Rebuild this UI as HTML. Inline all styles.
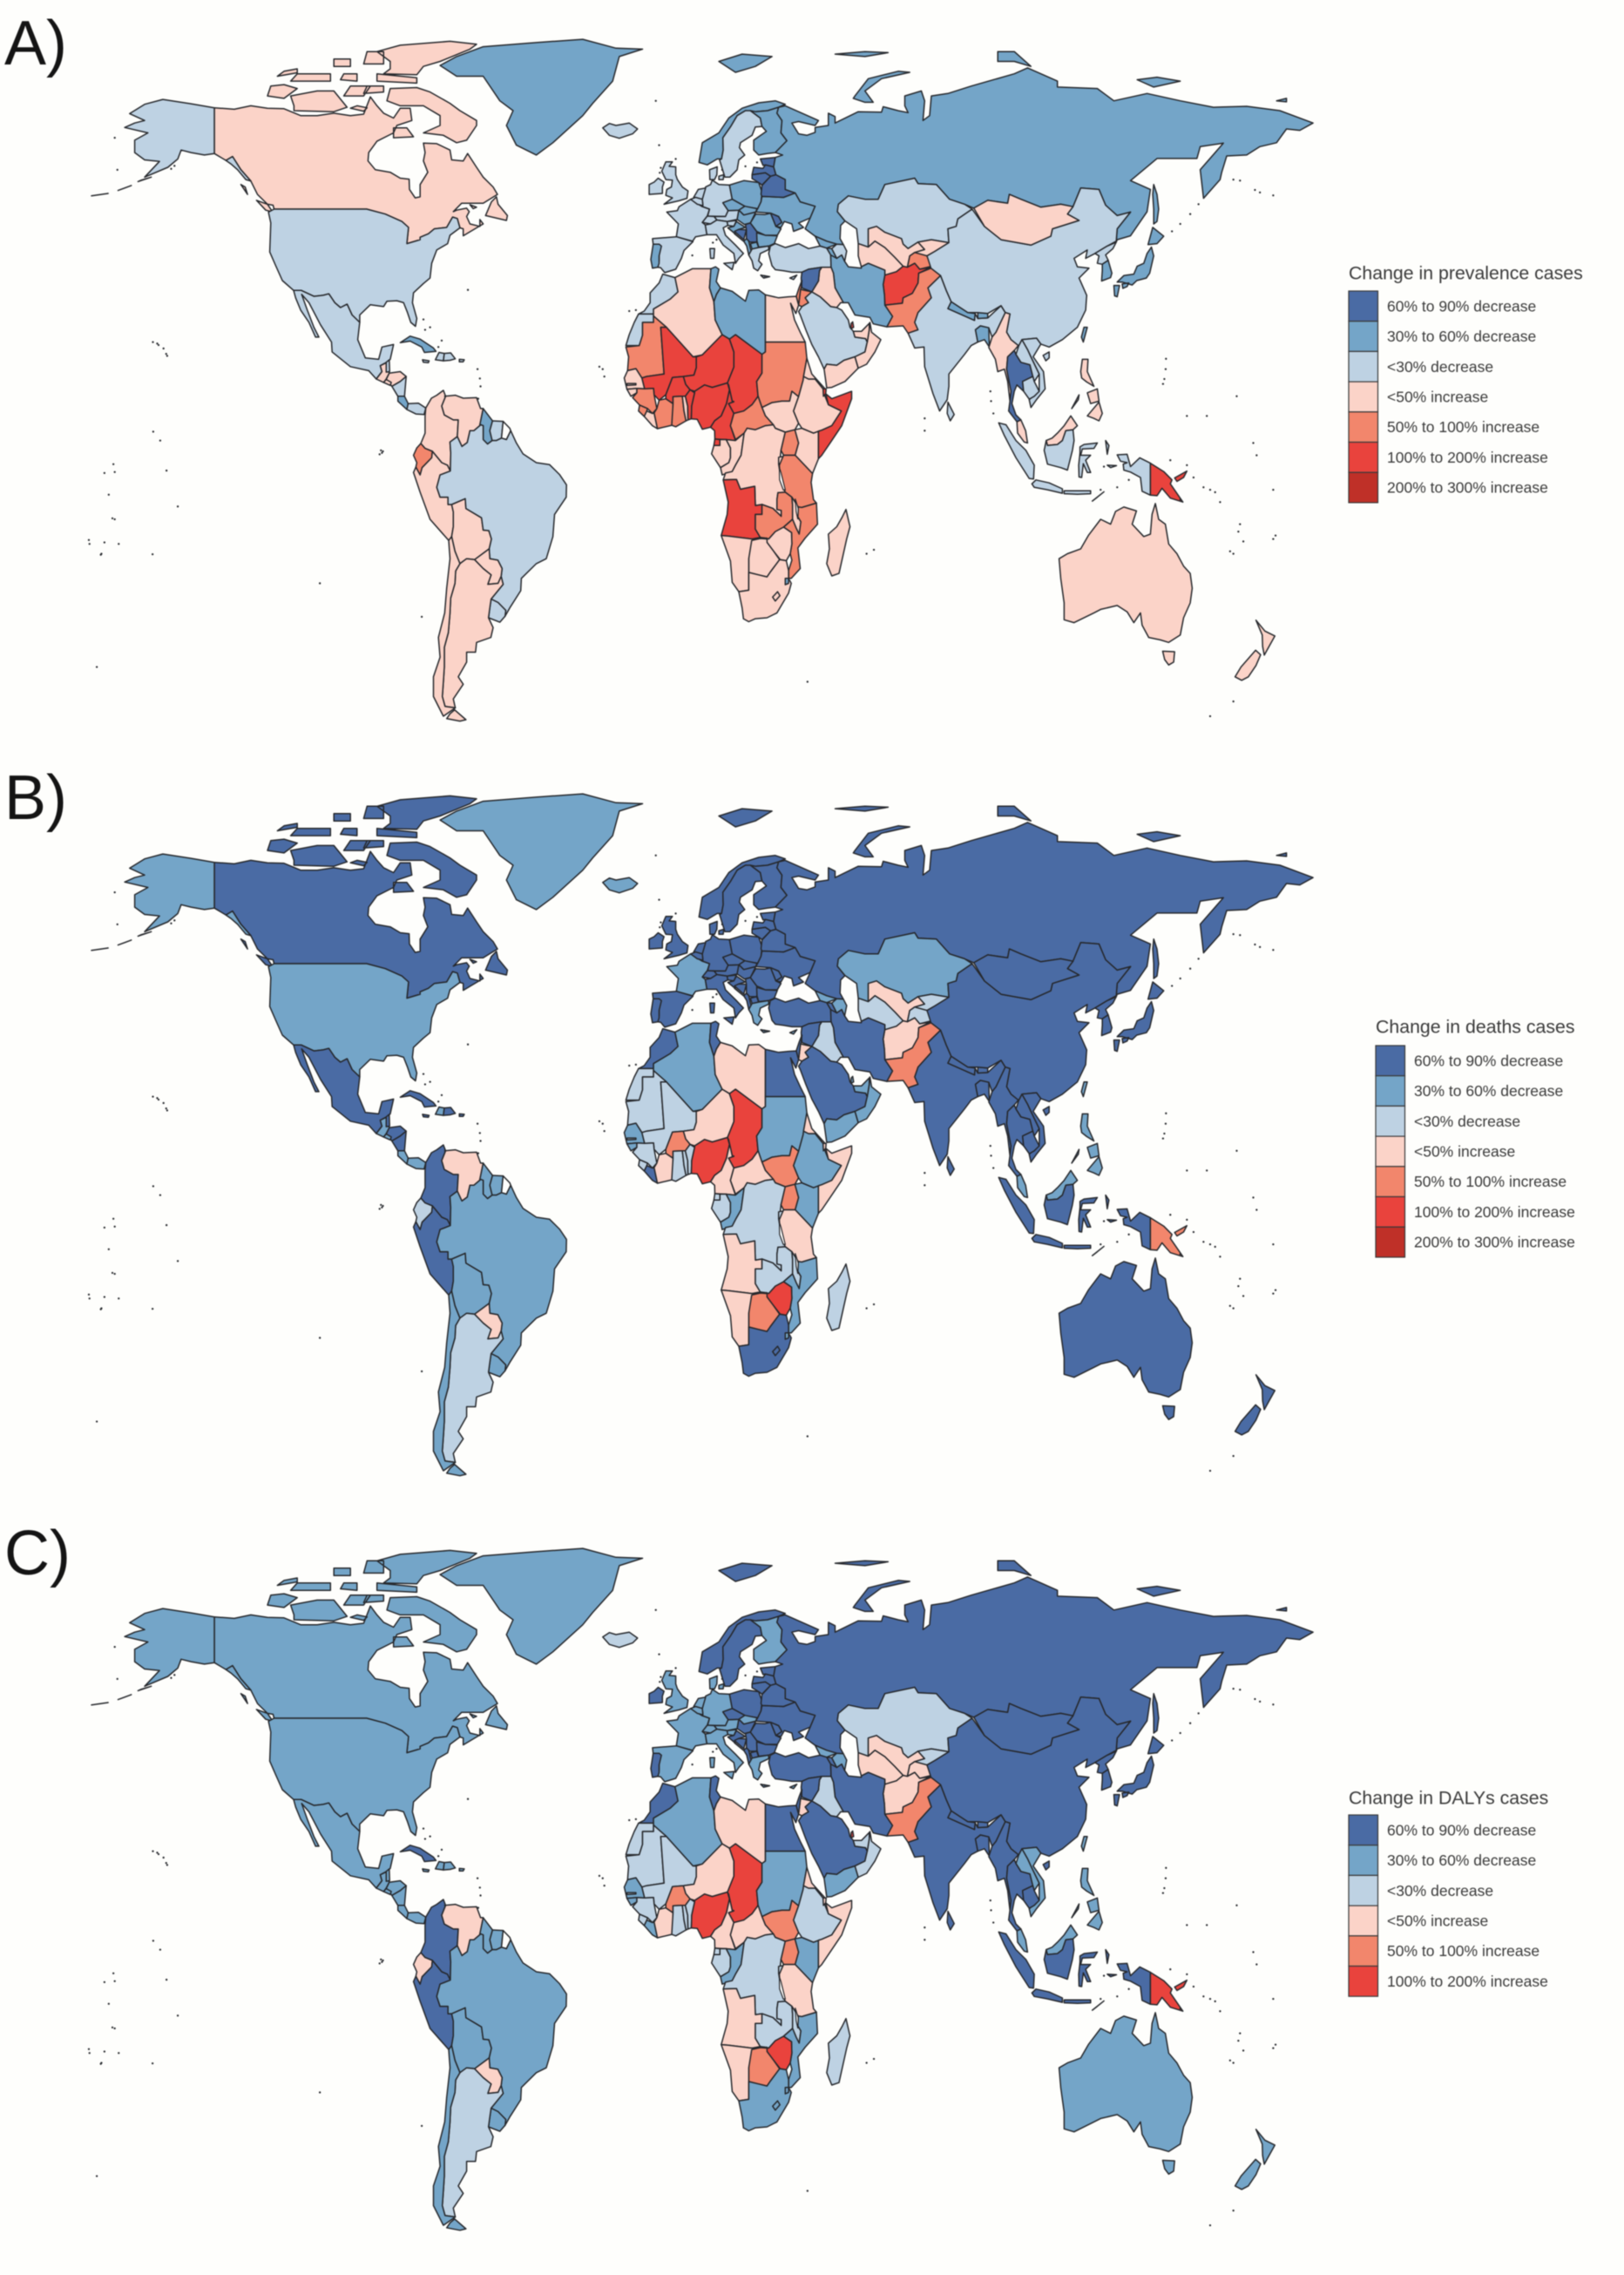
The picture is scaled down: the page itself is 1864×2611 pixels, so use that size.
<!DOCTYPE html>
<html lang="en">
<head>
<meta charset="utf-8">
<title>Change in prevalence, deaths and DALYs cases by country</title>
<style>
  html,body{margin:0;padding:0;background:#fefefc;}
  svg{display:block;filter:blur(0.45px);}
  text{font-family:"Liberation Sans",Arial,sans-serif;}
</style>
</head>
<body>
<svg id="chart" xmlns="http://www.w3.org/2000/svg" width="1864" height="2611" viewBox="0 0 1864 2611"></svg>
<script>
/* ---------- legend + panel data ---------- */
const legendLabels = ["60% to 90% decrease","30% to 60% decrease","<30% decrease","<50% increase","50% to 100% increase","100% to 200% increase","200% to 300% increase"];
const legendColors = ["#4a6ba4","#74a5c8","#bed2e3","#fbd3c8","#f2866c","#e9433d","#bf3028"];
const panelLetters = ["A)","B)","C)"];
const panelTitles = ["Change in prevalence cases","Change in deaths cases","Change in DALYs cases"];
const panelLegendItems = [7,7,6];

/* ---------- class per country (index into legend; -1 = no data) ---------- */
const countryNames = [
"Canada","United States","Mexico","Guatemala","Belize","Honduras","El Salvador","Nicaragua","Costa Rica","Panama","Cuba","Haiti","Dominican Republic","Jamaica","Puerto Rico","Colombia","Venezuela","Guyana","Suriname","French Guiana","Ecuador","Peru","Bolivia","Brazil","Paraguay","Uruguay","Argentina","Chile","Greenland","Iceland",
"Norway","Sweden","Finland","Denmark","United Kingdom","Ireland","France","Spain","Portugal","Germany","Netherlands","Belgium","Switzerland","Austria","Italy","Poland","Czechia","Slovakia","Hungary","Slovenia","Croatia","Bosnia","Serbia","Albania","Macedonia","Bulgaria","Romania","Moldova","Ukraine","Belarus","Lithuania","Latvia","Estonia","Greece","Turkey","Cyprus","Russia",
"Kazakhstan","Uzbekistan","Turkmenistan","Kyrgyzstan","Tajikistan","Afghanistan","Pakistan","India","Nepal","Bhutan","Bangladesh","Sri Lanka","China","Mongolia","North Korea","South Korea","Japan","Taiwan","Iran","Iraq","Syria","Jordan","Israel","Saudi Arabia","Yemen","Oman","UAE","Qatar","Georgia","Armenia","Azerbaijan","Myanmar","Thailand","Laos","Vietnam","Cambodia","Malaysia","Indonesia","Papua New Guinea","Philippines","Australia","New Zealand",
"Morocco","Western Sahara","Algeria","Tunisia","Libya","Egypt","Mauritania","Mali","Niger","Chad","Sudan","South Sudan","Senegal","Gambia","Guinea-Bissau","Guinea","Sierra Leone","Liberia","Ivory Coast","Burkina Faso","Ghana","Togo","Benin","Nigeria","Cameroon","Central African Republic","Equatorial Guinea","Gabon","Congo","DR Congo","Uganda","Kenya","Rwanda","Burundi","Tanzania","Ethiopia","Eritrea","Djibouti","Somalia","Angola","Zambia","Malawi","Mozambique","Zimbabwe","Botswana","Namibia","South Africa","Lesotho","Eswatini","Madagascar"
];
const prevalenceClass = [
3,2,2,3,2,3,3,2,1,2,1,2,2,2,2,3,3,1,2,-1,4,3,3,2,3,2,3,3,1,2,
1,2,1,2,2,2,2,2,1,2,2,2,2,2,2,1,1,1,1,2,1,0,0,1,1,1,1,0,1,0,0,0,0,2,2,2,1,
2,3,3,3,4,5,4,2,1,1,1,2,2,3,2,1,1,1,1,3,0,4,4,2,3,3,3,5,1,1,2,3,0,2,2,2,3,2,5,3,3,3,
2,2,3,1,1,3,4,5,5,5,4,3,3,3,3,4,4,3,4,5,4,3,5,5,5,4,5,3,3,3,4,3,3,3,4,3,3,5,5,5,4,3,4,3,3,3,3,3,1,3
];
const deathsClass = [
0,1,0,1,0,0,1,0,1,1,0,1,0,0,0,0,3,1,1,-1,2,0,1,1,3,1,2,1,1,1,
0,0,0,0,0,0,1,0,0,0,0,0,0,0,0,0,0,0,0,0,0,0,0,0,0,0,0,0,0,0,0,0,0,1,0,1,0,
1,3,2,2,2,3,4,0,0,0,0,0,0,0,0,0,0,1,0,2,0,3,0,0,1,1,1,1,1,0,1,0,0,0,0,0,1,0,4,1,0,0,
0,2,1,0,3,0,2,2,3,5,1,4,1,2,1,2,2,0,3,4,2,2,2,5,3,3,2,2,1,2,4,1,2,2,3,1,3,3,3,3,2,2,1,5,4,3,0,0,1,2
];
const dalysClass = [
1,1,1,1,1,1,1,1,1,1,0,1,1,1,1,0,3,1,1,-1,3,0,1,1,3,1,2,1,1,2,
0,0,1,1,1,0,1,1,0,1,1,1,1,1,1,0,0,1,0,1,0,0,0,0,0,0,0,0,0,0,0,0,0,1,0,1,0,
2,3,3,2,3,3,4,0,0,0,0,0,0,0,0,0,0,1,0,2,0,3,0,0,1,2,2,5,1,0,1,0,0,1,1,0,1,0,5,1,1,1,
0,2,1,0,3,0,2,2,3,5,1,4,1,2,1,2,2,1,3,4,2,2,2,5,3,3,2,2,1,2,4,1,2,2,3,2,3,3,3,3,2,2,1,5,4,3,1,1,1,2
];
const panelClasses = [prevalenceClass,deathsClass,dalysClass];

/* ---------- small islands (lon,lat) ---------- */
const smallIslands = [[-159.4,3.8],[-157.3,2],[-171.4,-2.8],[-174.1,-4.6],[-171,-4.4],[-155.4,-4.1],[-172.8,-9],[-152,-11.4],[-171.7,-13.8],[-171,-14],[-178.8,-18.2],[-178.6,-19],[-174.1,-18.7],[-169.8,-19],[-175,-21],[-159.6,-21.1],[-109.2,-27],[-78.5,-33.8],[-64.6,32.6],[-176.4,-44],[-61.7,16.5],[-61,14.6],[-60.8,13],[-61.5,10.5],[-24,16.5],[-23.5,15],[-25,17],[-16,28.3],[-14,28.5],[57.7,-20.2],[55.5,-21],[37.7,-47],[159,-54],[166,-51],[145.7,18.6],[145.6,16.5],[145.2,14.5],[144.8,13.5],[167,11],[152,7],[158,7],[73,4],[73,6.5],[172,1.5],[173,-1],[178,-8],[168,-15],[167.5,-16.5],[169,-18.5],[160.5,-8.5],[159,-8],[162,-10.5],[157,-7.5],[178.7,-17.3],[178,-18],[-175.2,-21.2],[166,-21],[165,-20.5],[92.8,12],[93,10],[93.7,7.5],[147.5,44.5],[150,46],[153,48],[155.5,50],[166,55],[168,54.8],[172.5,52.9],[174,52.4],[178,51.8],[-171,63.5],[-170.2,57],[-154,57.2],[-153,57.8],[-90.5,-0.5],[-91.2,-0.8],[-90.8,0],[-90.2,-0.2],[-157.8,21.4],[-156.3,20.7],[-155.5,19.6],[-155.2,19.2],[-159.5,22],[-158.2,21.7],[-77.5,24.5],[-76,25],[-78,26.6],[-73.5,21],[-72.5,22.3],[131,-7.5],[134.5,-6],[127,-3.3],[126,-8],[154,-5.5],[152,-3],[147,-2],[150,-10],[9.2,42.2],[3,39.6],[10.3,42.8],[24.8,35.4],[-8,71],[-7,62],[-2,59.2],[-6.5,57.4],[-6.8,56.4],[12,57],[19,57.7],[22.5,58.5]];

/* ---------- lakes drawn over countries (lon,lat;...) ---------- */
const lakeOutlines = [
"34,-9.8;34.9,-11.8;34.8,-14;34.3,-12.5",
"29.2,-3.5;29.7,-4.5;31,-8;30.4,-8;29.3,-6"
];

/* ---------- country outlines (lon,lat;... rings split by |) ---------- */
const countryOutlines = [
"-141,69.6;-135,69.3;-130,70;-125,69.5;-120,69.4;-115,68;-110,68;-105,68.5;-100,68;-96,68.3;-94,71.8;-92,70;-90,68.5;-87,67.5;-85,69.5;-82,69.5;-81.5,67;-86,66;-87,64.5;-92,62.8;-94.5,60.5;-94.7,58.8;-92.5,57;-88,56.5;-85,55.3;-82.3,55.1;-82.2,53;-80.5,51.3;-79,51.5;-79,54;-76.7,56.5;-78,58.8;-77.5,60.5;-78,62.4;-74,62.3;-70,61;-69.5,59;-66,58.8;-64.7,60.3;-62,57.5;-60,55.5;-57,53.5;-55.7,52;-60,50.2;-66.5,50.2;-69,48.5;-68,48.8;-65,49.2;-64.2,48.5;-65,47.5;-64,46;-61,45.5;-61,46.9;-60,46;-63.5,44.6;-66,43.6;-66,45;-67,45.2;-67.8,47.1;-69.2,47.4;-71,45.3;-74.7,45;-76.5,44;-79,43.3;-79,42.8;-83,42;-82.5,45.3;-84.5,46.5;-89.5,48;-95.1,49;-123,49;-123.3,49.8;-125,50;-128,52;-130,54.7;-133,57;-135.5,59.7;-137.5,58.9;-141,60.3|-62,66;-65,63;-68,62.5;-72,64;-78,64.5;-73,66;-73,68;-78,70;-85,70;-89,71;-88,73.5;-80,73.7;-76,72.8;-70,70.5;-67,69;-62,67|-117,69;-105,68.8;-101,69.7;-105,73;-110,73;-118,72;-117,70|-125,72;-120,71.5;-116,73.5;-120,74.3;-124,74|-90,76.5;-80,76.3;-78,78;-73,79;-64,81.5;-62,82.5;-70,83.1;-85,82.3;-92,81;-88,79;-88,77.5|-92,75;-80,74.6;-80,75.7;-92,76.5|-96,78.5;-90,78.5;-90,81;-95,81|-118,75;-106,75;-106,76.5;-116,76.5|-102,72;-96,72;-94,74;-100,74|-96,72.5;-90,72.8;-90,74;-95,74|-87,63.5;-81,63.7;-83,65.5;-87,65.5|-59.3,47.7;-53,46.7;-52.7,47.7;-55.5,50;-56,51.5;-57.5,50.5|-103,75.3;-98,75;-98,76.5;-102,76.5|-105,78;-100,78;-100,79.5;-105,79.5|-122,76;-116,76.7;-116,77.5;-120,77|-128.3,50.8;-125,50;-123.4,48.4;-125.5,48.8|-133,54;-131.7,53.5;-131,52;-132,53|-64,49.9;-62,49.4;-63,49.1|-100,69.5;-96,68.9;-95,69.6;-98,70",
"-124.7,48.4;-123,49;-95.1,49;-89.5,48;-84.5,46.5;-82.5,45.3;-83,42;-79,42.8;-79,43.3;-76.5,44;-74.7,45;-71,45.3;-69.2,47.4;-67.8,47.1;-67,45.2;-70,43.7;-70.7,42;-74,40.7;-75.5,38;-76,35;-78,33.9;-81,32;-81.3,30;-80,26.8;-80.4,25.2;-81.8,26;-82.8,28;-84,30;-86,30.4;-89,30.3;-90,29.2;-94,29.6;-97.2,27.5;-97.2,26;-99.5,27.5;-101,29.7;-103,29;-104.7,30;-106.5,31.8;-108.2,31.5;-111,31.3;-114.8,32.5;-117.1,32.5;-120.5,34.5;-122.5,37.5;-124.3,40.3;-124,46.2|-141,69.6;-148,70.4;-156.5,71.3;-162,70.3;-166.5,68.4;-162,67;-165,66.5;-168,65.6;-161,64.5;-165,63;-165,60.5;-162,59;-157.5,58.7;-162,55.5;-155,57.5;-152,59.2;-151,61;-148,60.5;-144,60;-141,60.3|-137.5,58.9;-135.5,59.7;-133,57;-130,54.7;-131.5,55;-134,57;-136,58.2|-164,54.6;-160,55.5;-163,54.9|-170,52.8;-166,53.8;-168,53.3|-178,51.7;-173,52.2;-175,52",
"-117.1,32.5;-114.8,32.5;-111,31.3;-108.2,31.5;-106.5,31.8;-104.7,30;-103,29;-101,29.7;-99.5,27.5;-97.2,26;-97.8,22.5;-95.5,18.8;-91.5,18.5;-90.5,21;-87,21.5;-88,18.5;-89.1,17.9;-91,17.2;-90.5,16;-92.2,14.5;-94.5,16.2;-100,17;-105.5,20;-105.7,22;-109,25.5;-112.5,30;-114.7,31.7;-113,28.5;-111,25;-109.5,23;-110.5,23;-112.5,26;-115,28.5;-116.5,31",
"-92.2,14.5;-90.5,16;-91,17.2;-89.2,17.8;-88.3,15.7;-89.2,14.5;-90,13.8",
"-89.2,17.9;-88.3,18.4;-88.2,16;-89.2,15.9",
"-88.3,15.7;-85,16;-83.2,15;-85,14;-87.5,13;-89.2,14.4",
"-90,13.8;-89.2,14.4;-87.7,13.8;-88,13.2",
"-87.5,13;-85,14;-83.2,15;-83.7,11;-85.7,11",
"-85.7,11;-83.7,11;-82.6,9.5;-83,8.3;-85.7,10",
"-83,8.3;-82.6,9.5;-79.5,9.6;-77.3,8.6;-77.8,7.3;-80.3,7.4;-81.5,7.8",
"-85,21.9;-82,23.2;-79,22.6;-75,20.8;-74.2,20.1;-77.7,19.9;-78.5,21;-82,22.2",
"-74.4,18.4;-72,18.2;-71.7,19.7;-73.3,19.9",
"-71.7,19.7;-72,18.2;-70,18.3;-68.4,18.6;-69.8,19.8",
"-78.3,18.4;-76.3,18.2;-76.5,17.8;-78,17.9",
"-67.2,18.5;-65.7,18.4;-66,18;-67.2,18",
"-77.3,8.6;-75.6,10.6;-74,11.2;-72,12.2;-71.3,11;-72.5,9;-71.7,7.2;-69,6.2;-67.5,6.2;-67.8,2.8;-70,1.7;-69.8,-0.5;-69.9,-4.2;-70.8,-3;-72.5,-2.5;-75.3,-0.2;-77.5,0.4;-78.8,1.4;-77.5,3.5;-77.5,7",
"-71.6,11;-68.4,11.2;-66,10.6;-62,10.7;-60.8,8.5;-60,8.5;-61,5.2;-60.7,5.2;-62.8,4;-64,4;-64.8,1.6;-66.4,0.8;-67.8,2.8;-67.5,6.2;-69,6.2;-71.7,7.2;-72.5,9;-71.3,11",
"-60,8.5;-57.2,6;-58,4;-57.3,2;-58.7,1.3;-60,2.2;-60,5;-61,5.2",
"-57.2,6;-54,5.9;-54.5,2.5;-56,2;-57.3,2;-58,4",
"-54,5.9;-52,4.5;-51.7,4;-53,2.2;-54.5,2.5",
"-78.8,1.4;-77.5,0.4;-75.3,-0.2;-75.5,-1.5;-78.4,-3.5;-79,-5;-80.3,-3.4;-80,-2.5;-81,-1;-80,0.5",
"-81,-4.5;-80.3,-3.4;-79,-5;-78.4,-3.5;-75.5,-1.5;-75.3,-0.2;-72.5,-2.5;-70.8,-3;-69.9,-4.2;-73,-5;-74,-7.5;-73,-9.5;-70.6,-9.5;-70.6,-11;-69.5,-11;-69,-12.5;-69,-15.5;-69.5,-17.5;-70.4,-18.3;-76,-14;-79,-8.5",
"-69.5,-11;-65.4,-9.8;-65.2,-11.8;-60.5,-13.7;-60,-16.2;-58.3,-16.3;-57.5,-18;-58.2,-20;-62.6,-22.2;-65,-22;-67,-23;-68.5,-20.5;-69.5,-17.5;-69,-15.5;-69,-12.5",
"-51.7,4;-50,1.5;-48,-0.7;-44,-2.5;-40,-2.9;-37,-4.9;-34.9,-7;-35,-9.5;-38.5,-13;-39,-17.5;-41,-22;-44,-23;-48.5,-26;-48.7,-28.5;-52,-32;-53.4,-33.7;-53.2,-32.5;-55.5,-30.9;-57.6,-30.2;-54,-27.2;-54.6,-25.6;-54.3,-24;-55.6,-22.3;-58,-22;-58.2,-20;-57.5,-18;-58.3,-16.3;-60,-16.2;-60.5,-13.7;-65.2,-11.8;-65.4,-9.8;-69.5,-11;-70.6,-11;-70.6,-9.5;-73,-9.5;-74,-7.5;-73,-5;-69.9,-4.2;-69.8,-0.5;-70,1.7;-67.8,2.8;-66.4,0.8;-64.8,1.6;-64,4;-62.8,4;-60.7,5.2;-60,5;-60,2.2;-58.7,1.3;-57.3,2;-56,2;-54.5,2.5;-53,2.2",
"-58.2,-20;-58,-22;-55.6,-22.3;-54.3,-24;-54.6,-25.6;-55.5,-27;-58.6,-27.2;-57.6,-25.3;-60,-24;-62.6,-22.2",
"-57.6,-30.2;-55.5,-30.9;-53.2,-32.5;-53.4,-33.7;-55,-34.9;-58.4,-34;-58,-32",
"-65,-22;-62.6,-22.2;-60,-24;-57.6,-25.3;-58.6,-27.2;-55.5,-27;-54.6,-25.6;-54,-27.2;-57.6,-30.2;-58,-32;-58.4,-34;-57,-36;-57.7,-38;-62,-39;-62.3,-41;-65,-41;-65,-43;-67.5,-46;-66,-47.5;-69,-50.5;-68.4,-52.3;-71.5,-52;-72.3,-50;-72,-47;-71.7,-44;-71.7,-40;-70.5,-37;-70,-33;-69.8,-30;-68.5,-27;-68.3,-24.5;-67,-23",
"-70.4,-18.3;-69.5,-17.5;-68.5,-20.5;-67,-23;-68.3,-24.5;-68.5,-27;-69.8,-30;-70,-33;-70.5,-37;-71.7,-40;-71.7,-44;-72,-47;-72.3,-50;-71.5,-52;-68.4,-52.3;-72,-54;-75,-50;-75,-46;-73,-42;-73.5,-38;-71.6,-33;-71,-28;-70,-22|-68.6,-52.7;-65.2,-54.7;-67,-55;-71,-54.5;-70,-53.5",
"-73,78.2;-68,76;-60,76;-55,71;-51,69;-53,66;-50,62;-44,60;-39,62.5;-30,68;-27,70.5;-21,75;-19,80;-12,81.5;-20,81.7;-30,83.5;-45,82.8;-60,82;-68,80",
"-24,65.5;-22,64;-19,63.4;-15,64.3;-13.5,65.3;-16,66.5;-20,66;-22,66.4",
"5,58.5;7.5,58;10.5,59.2;11.8,59.2;12.3,61;12.2,63.5;14.5,65.7;16.5,68;19,69;22,68.8;25.7,69;29,69.7;31,70.3;28,71;23,70.6;18,69.5;14,67.5;11,64.5;6,62.5|11,79;16,76.8;22,78;27,80;18,80.5",
"11.2,59;12.8,55.5;14.3,55.5;16.5,57;17,59;18.8,60;17.2,61.5;17.5,62.5;21,64;22,65.7;24,65.8;23.5,67.5;20.5,69;19,69;16.5,68;14.5,65.7;12.2,63.5;12.3,61;11.8,59.2",
"24,65.8;25.3,64.8;21.5,63;21.5,61;23,60;25.5,60.3;28,60.5;31.5,62.9;29.7,64.5;30,67;28.5,68.5;29,69.7;25.7,69;22,68.8;20.5,69;23.5,67.5",
"8.3,55;8.2,57;10.5,57.6;10.4,56;9.7,55|11,55.7;12.5,56;12.3,55;11,55",
"-5.5,50;-1,50.7;1.4,51.2;1.7,52.7;0,53.5;-1.5,55;-2,56;-2,57.6;-4,57.7;-3,58.6;-5,58.6;-6.2,56.7;-5,55;-3,54.9;-3.3,53.5;-4.7,53;-5,51.8;-3,51.3",
"-6,52.2;-6,53.5;-5.5,54.5;-7.3,55.3;-8.5,54.5;-10,54;-10,52",
"-1.8,43.4;3.1,42.5;4,43.4;7.4,43.8;6.9,45.8;6,46.3;7.5,47.6;8.2,49;6,49.5;2.5,51;-1,49.5;-1.5,48.7;-4.7,48.4;-1.2,46",
"-9,43;-1.8,43.4;3.2,42.4;0.5,40.6;-0.3,39;-2,36.8;-5.3,36.1;-6.5,37.1;-7.4,37.2;-7,38.5;-7,41;-8.8,41.9",
"-8.8,41.9;-7,41.9;-6.3,41.5;-7,39.5;-7,38;-7.4,37.2;-9,37;-9.5,38.8",
"6,51;7,53.5;8.5,54;9,54.9;11,54;14.2,53.9;15,51;12.2,50.3;13.8,48.7;13,47.5;7.6,47.6;8.2,49;6.2,49.5",
"3.4,51.4;4.8,53;7,53.3;6,51",
"2.5,51;4,51.4;6,51;6.2,49.7;4.5,50",
"6,46.3;7.5,47.6;9.6,47.5;10.4,46.8;8.5,46",
"9.6,47.5;13,47.5;13.8,48.7;17,48.8;16.5,46.9;13.5,46.5;10.4,46.8",
"6.9,45.8;7.4,43.8;10.3,43.8;12.3,41.7;15.5,40;16,38;17,39;18.4,40;16,41.7;13,43.7;12.3,45.2;13.7,45.7;13.5,46.5;10.4,46.8;8.5,46|12.5,38;15.6,38.2;15,36.7|8.3,41;9.7,41;9.5,39;8.5,39",
"14.2,53.9;18.5,54.8;23,54.4;24,52.5;23.7,50.5;22.7,49.1;19,49.5;15,51",
"12.2,50.3;15,51;18.8,49.6;17,48.8;13.8,48.7",
"17,48.8;18.8,49.6;22.5,49.1;22.1,48.4;18.5,47.8",
"16.5,46.9;17,48.8;18.5,47.8;22.1,48.4;20.5,46.2;18.7,45.9",
"13.7,45.7;13.5,46.5;16.3,46.7;15.5,45.5",
"13.7,45.2;15.5,45.5;16.3,46.5;19,45.3;17,44.9;15.7,44;18.4,42.5;15,44.5",
"15.7,44.5;17,44.9;19.3,44.8;18.5,42.8",
"19,45.9;20.5,46.2;22.4,44.5;22.9,43;22.3,42.3;20.3,42.3;19.3,43;19.3,44.8",
"19.3,43;20,42.5;20.5,41;21,40;20,39.7;19.4,41.5;18.5,42.5",
"20.5,42;22.4,42.3;23,41.2;21,40.9",
"22.4,44.2;25,43.7;28.6,43.6;27.7,42;26,41.5;23,41.3;22.5,42.5",
"20.5,46.2;22.1,48;24.8,47.9;26.6,48.2;28.2,45.5;29.7,45;28.6,43.7;25,43.7;22.4,44.5",
"26.6,48.2;29,47.5;30,46.3;28.2,45.5",
"22.1,48.4;22.7,49.1;23.7,50.5;24,51.6;30.5,51.4;34,52.3;35.5,50.5;40,49.6;38.5,47.2;35,46.2;36.5,45.3;33.5,44.5;33,46;30.7,46.5;29.7,45.3;28.2,45.5;30,46.3;29,47.5;26.6,48.2",
"23.7,52;24,53.8;26.6,55.7;28.2,56;31,55;31,53;34,52.3;30.5,51.4;24,51.6",
"21,56;25,56.4;26.6,55.7;24,53.9;23,54.4;21,55.2",
"21,56;21.5,57.5;24.3,57.3;25,58;27.5,57.6;28.2,56;26.6,55.7;25,56.4",
"24.3,57.9;23.5,59.2;28,59.5;27.5,57.6;25,58",
"20,39.7;21,40.9;23,41.2;26,41.5;26,40.8;23.5,40;23,38.5;24,37.8;22.7,36.5;21.5,37;21,38.5|23.6,35.6;26.3,35.3;24.5,35",
"26,40;26.5,41.5;28,42;31,41.2;35,42;38,41;41.5,41.5;43.5,41.1;44.7,39.7;44.8,37.2;42,37.2;38,36.8;36,36.2;33,36.2;30.5,36.5;28,36.7;27,37.5",
"32.4,35;34.5,35.6;33.5,34.7",
"28,59.5;30.2,60;28,60.5;31.5,62.9;29.7,64.5;30,67;28.5,68.5;29,69.7;31,70;33,69.4;41,67;40,66;35,66.8;33,66.5;35,64.3;37.5,64;40,64.6;40,65.6;44,66;44,68.5;46,67.8;46,66.5;53,68.8;60,68.7;60.5,69.8;65,69;68,68.6;67,70;67,72;72,73;73,71;72.5,67;74.5,68;75,72;80,72.5;87,74;100,76.5;104,77.7;113,75;113,73.8;125,73.5;130,71;140,72.5;150,71;160,69.7;170,69.9;180,69;190,66.5;186,65;182,65.3;179,62.5;174,61.7;170,60;164,59.8;162.5,56.5;162,55;157,51.2;156,57;163,62.4;156,61.7;155,59.3;143,59.3;135,54.8;141,53;140,48.5;135,43.6;131,42.8;130.7,42.3;131,45;135,48.4;131,47.7;127.5,49.8;125.5,53;120,53.3;117.7,49.5;114,50;108,49.4;102,51;98.5,52;98,50.2;92,50.8;87.8,49.2;85,50;80.5,51;76.5,54;71,54.2;70,55.3;61,54;59,51;55,51;50,51.7;47,50;46.7,48.5;49,46.6;47.7,45.7;47.5,43;48.5,41.8;46.5,41.9;43.5,42.5;40,43.5;37,45;38.5,47.2;40,49.6;35.5,50.5;34,52.3;31,53;31,55;28.2,56;27.5,57.6|51.5,71.5;55,70.7;57.5,70.7;55,73;60,75.5;68.5,76.8;65,77;56,75.5;52,72|142,54;143,52;143.5,49;143,46.5;142,46;142,49;141.7,52|46,80.5;55,81;62,80.8;55,80|95,79;100,79;105,78;100,81;95,81|137,75.3;143,75.8;150,75;142,73.8|179,71;182,71.5;182,70.8",
"46.7,48.5;47,50;50,51.7;55,51;59,51;61,54;70,55.3;71,54.2;76.5,54;80.5,51;85,50;87.3,49;83,47;82.5,45.5;80,45;80.3,42.2;75,42.8;71,42.3;68,41;66.5,41.9;66,43;61,44.3;58.5,45.5;56,45;56,41.3;53,42;52.5,45;49,46.6",
"56,45;58.5,45.5;61,44.3;66,43;66.5,41.9;68,41;71,42.3;73,40.8;70,40.2;68.5,39.5;67.8,37.2;66.5,37.4;64,39.2;61,41.2;58,42.5;56,41.3",
"53,42;56,41.3;58,42.5;61,41.2;64,39.2;66.5,37.4;64.5,36.3;61,35.6;61,36.6;56,38;53.9,37.3;53,39.5",
"71,42.3;75,42.8;80.3,42.2;76,40.4;73.7,39.5;70,40.2;73,40.8",
"68.5,39.5;70,40.2;73.7,39.5;75,37.4;71.5,36.8;70,38;67.8,37.2",
"61,35.6;64.5,36.3;66.5,37.4;67.8,37.2;70,38;71.5,36.8;74.9,37.2;71.2,36;71,34;69.3,31.9;66.5,31;66.3,29.9;61,29.5;60.9,31.5;60.5,33.7",
"61,29.5;66.3,29.9;66.5,31;69.3,31.9;71,34;71.2,36;74.9,37;77.8,35.5;74,33;75,31;71,28;70,26;71,24.5;68,23.8;66.5,25.3;61.6,25.1;63.3,27.2",
"68,23.8;71,24.5;70,26;71,28;75,31;74,33;77.8,35.5;79.5,32.5;81,30.2;80,28.8;88,26.4;88.2,27.8;89,26.8;92,26.9;96,29.4;97.3,28;94.5,24;93.3,23;92.3,24.9;89.8,25.3;88.3,24.5;89,22;87,21.3;85,19.5;80.3,15.5;80.3,13;79.8,10.3;77.5,8;75.5,11.5;73,17;72.8,21;70,20.8;69,22.3",
"80,28.8;81,30.2;86,28;88.2,27.8;88,26.4",
"89,26.8;89,28;92,27.8;92,26.9",
"88.3,24.5;89.8,25.3;92.3,24.9;92.5,21;91,22.5;89,22",
"80,9.8;81.9,7.3;80.7,6;79.8,7.5",
"73.7,39.5;76,40.4;80.3,42.2;80,45;82.5,45.5;83,47;87.3,49;91,45.5;96,42.8;105,41.7;111,43.5;111.5,45;119.5,46.7;116,48;117.7,49.5;120,53.3;125.5,53;127.5,49.8;131,47.7;135,48.4;131,45;130.7,42.5;128,41.5;124.3,40;121.5,39;122,40.7;118,39;119,37.3;122.5,37;119.5,35;121.8,31.5;121.5,28.5;119,25;114.5,22.5;110.5,21;108,21.6;106.7,22.8;102.3,22.5;101.3,21.2;99,22.5;97.7,24;98.7,27.7;97.3,28;96,29.4;92,27.8;89,28;86,28;81,30.2;79.5,32.5;77.8,35.5;74.9,37|108.7,19.3;110.5,20;110.5,18.8;109.5,18.2",
"87.8,49.2;92,50.8;98,50.2;98.5,52;102,51;108,49.4;114,50;117.7,49.5;116,48;119.5,46.7;111.5,45;111,43.5;105,41.7;96,42.8;91,45.5",
"124.3,40;128,41.5;130.7,42.3;129.7,41;127.5,39.7;128.3,38.6;126.5,37.8;125,38;125.5,39.5",
"126.5,37.8;128.3,38.6;129.4,36;129,35.1;126.3,34.4;126.5,36.5",
"131,34.2;133,35.5;136,35.8;137,37.4;139,38;140,40;141.3,41.3;142,39.5;140.8,36;139.8,35;136.9,34.5;135.5,33.6;132.5,34.2|130,33.5;131.7,33.5;131,31.2;130.2,31.4|132.5,33.8;134.5,34;134,33.3;132.7,32.9|140.3,41.8;141.7,45.3;145,43.5;143,42",
"121,25;122,25;120.8,22;120.2,23",
"44.7,39.7;48,39.7;48.9,38.4;50,37.3;53.9,37;53.9,37.3;56,38;61,36.6;61,35.6;60.5,33.7;60.9,31.5;61,29.5;63.3,27.2;61.6,25.1;57.5,25.7;56.5,27;52,27.5;50,30;48.5,30;47.7,31;46,33;45.5,36;44.8,37.2",
"42,37.2;44.8,37.2;45.5,36;46,33;47.7,31;48.5,30;47.7,30;46.5,29;44.7,29.2;41.5,31.2;39,32.2;41,34.4;41.3,36.5",
"36,36.2;38,36.8;42,37.2;41.3,36.5;41,34.4;39,32.2;36,33;35.8,35",
"35,29.5;35.6,32.7;39,32.2;37,31;38,30;36,29.2",
"34.3,31.3;35.2,33.1;36,34.5;35.8,33;35.6,32.7;35,29.5",
"35,28.2;36,29.2;38,30;37,31;39,32.2;41.5,31.2;44.7,29.2;46.5,29;48,28.5;50,26.5;50.5,25;51.5,24.2;52,23;55.2,22.7;55.7,22;55,20;52,19;48.7,18.3;46.5,17.3;43.5,17.5;42.7,16.5;41,19;39,21.5;37.2,24.5;35.5,27.5",
"42.7,16.5;43.5,17.5;46.5,17.3;48.7,18.3;52,19;53,16.7;49,14;45,12.8;43.5,12.7",
"52,19;55,20;55.7,22;56.3,24.5;56.5,26;57,24;59.8,22.5;58,20;55.5,17.5;53,16.7",
"51.5,24.2;54,24.2;56.3,25.8;56.3,24.5;55.7,22;55.2,22.7;52,23",
"50.8,24.7;51.6,25;51.3,26.1;50.9,25.8",
"40,43.5;43.5,42.5;46.5,41.9;43.5,41.1;41.5,41.5",
"43.5,41.1;45,41;46.5,39;44.7,39.7",
"46.5,41.9;48.5,41.8;49.5,40.5;48.9,38.4;48,39.7;46.5,39;45,41",
"92.3,20.9;93.3,23;94.5,24;97.3,28;98.7,27.7;97.7,24;99,22.5;101.2,21.3;100,20.3;98,19;97.7,16.5;99,12;98.7,10;98,14;97,16.5;95,16;94.3,18.5",
"98.7,10;99,12;97.7,16.5;98,19;100,20.3;100.5,19.5;102,17.9;104.7,17.4;105.6,15;102.5,14;102.8,12;100.8,13.3;100,12;99.3,9.5;100.5,7.2;102,6.2;100.8,5.8;98.3,8",
"100.5,19.5;101.3,21.2;102.3,22.5;104,20.5;105,19;107.5,15.5;106,14;105.6,15;104.7,17.4;102,17.9",
"102.3,22.5;106.7,22.8;108,21.6;105.7,19;108.8,16;109.3,12.5;106.8,10.4;105,8.7;104.5,10.3;107.5,12;107.5,15.5;105,19;104,20.5",
"102.8,12;102.5,14;105.6,15;106,14;107.5,12;106,11;104.5,10.4",
"100.8,5.8;102,6.2;103.4,4;104,1.5;103,1.7;101,3.5|109.6,2;111.4,2.5;113,3.5;115,5;117,7;119,5;117.7,4.2;115.5,4;114.5,2;113,1.2;110,1",
"109.6,2;109,0;110,-2.8;114,-3.5;116,-4;117.5,0;118,2;117.7,4.2;115.5,4;114.5,2;113,1.2;110,1|95.3,5.6;97.5,5.2;100.5,2;103.5,0;106,-3;105.8,-5.8;104.5,-5.7;100.5,-1.5;97,3|105.3,-6.8;106.5,-6;110.5,-6.6;114.5,-7.8;114.5,-8.7;110,-8;106,-7.5|115,-8.2;119,-8.2;123,-8.2;123,-8.8;119,-8.9;115,-8.8|119.8,0.7;121,1.2;125,1.5;124,0.4;120.5,0.3;120,-1;123,-1;121.5,-2;123,-4.5;122,-4.5;120.8,-2.7;120.3,-5.5;119.5,-5.4;119.4,-3;119.8,-0.5|123.5,-10.3;127,-8.4;125,-9.5|127.5,2;128.5,1;128,-0.8|128,-3;130.8,-3.1;129,-3.5|131,-0.9;134,-0.8;135,-3.3;137.8,-1.5;141,-2.6;141,-9.1;138.5,-8.3;138,-5.5;135,-4.4;133,-4;132.8,-2.8;134,-2.5;132,-2.2",
"141,-2.6;145,-4.3;147.5,-6;147,-6.8;150.8,-10.5;147,-9.7;144.5,-7.7;143,-9.2;141,-9.1|148.3,-5.6;152,-4.2;151,-5.5;149,-6.3",
"120.5,18.5;122.2,18.5;122,16;124,13;121.8,13.9;120.3,14.7;120,16|122,7;125.5,9.8;126.5,7.5;125.5,6;124,6.5|122,11.7;125,12.5;125.5,10;123,9.5|117.3,8.5;119.5,11.3;119.3,10.3",
"113.5,-22;114,-26;115,-31;115,-34.4;118,-35;124,-33;126,-32.3;131,-31.5;134,-32.8;136,-35;138,-33;138.5,-35.5;140.5,-38;144,-38.5;146.5,-39;150,-37.5;151,-34;153,-31;153.6,-28;153,-25;151,-23.5;149,-21;146.5,-19;145.5,-15;143.5,-14;142.5,-10.8;141.5,-13;141,-17;139,-17.5;135.5,-15;136.8,-12.3;133,-11.5;130.5,-12.4;129,-15;126,-14;122.3,-17.3;120,-20;116,-21|144.7,-40.8;148.3,-40.9;148,-43;146.5,-43.6;145.3,-42.5",
"172.8,-34.5;175.5,-36.7;178.5,-37.7;177,-39.5;175.3,-41.6;174.8,-39.8;174.7,-37.5|172.7,-40.6;174.2,-41.5;172.8,-43.7;170.5,-46;168.5,-46.7;166.5,-46;168.3,-44",
"-5.9,35.8;-2.2,35.1;-1.3,32.2;-3.7,30.7;-8.7,28.7;-8.7,27.7;-13.2,27.7;-11.5,28.3;-9.7,30;-9.7,32;-7,34",
"-13.2,27.7;-8.7,27.7;-8.7,26;-12,26;-12,23.4;-13,21.3;-17,21.3;-16,23.5;-14.5,26",
"-2.2,35.1;3,36.9;8.6,36.9;8.2,33;9.5,30.2;9.9,26.5;12,23.5;6,19.4;3.2,19;-4.8,25;-8.7,27.3;-8.7,28.7;-3.7,30.7;-1.3,32.2",
"8.6,36.9;10,37.3;11,36.8;10.2,34.3;11.5,33;10.3,31.7;9.5,30.2;8.2,33",
"11.5,33;15,32.3;19,30.3;20,32.5;23,32.6;25,31.6;25,20;24,19.5;16,23.5;14.2,22.6;12,23.5;9.9,26.5;9.5,30.2;10.3,31.7",
"25,31.6;29,31;32,31.2;34.3,31.3;35,29.5;34.2,27.8;32.6,29.9;33.8,26.5;35.5,24;37,22;25,22",
"-17,21;-13,21.3;-12,23.4;-12,26;-8.7,26;-8.7,27.3;-4.8,25;-6.5,25;-5.5,15.5;-10.8,15;-12.2,14.7;-14,16.6;-16.5,16.2;-16.2,19",
"4.2,19;4.2,16.8;3.5,15.3;0.3,15;-3,14.8;-5,11.3;-7,10.2;-8.5,11.3;-8.7,12.6;-11.4,12.5;-12.2,14.7;-10.8,15;-5.5,15.5;-6.5,25;-4.8,25;3.2,19",
"3.7,12;6.7,13.3;9,12.8;13.6,13.7;15.5,16.9;15.5,20;14.2,22.6;12,23.5;6,19.4;4.2,19;4.2,16.8;3.5,15.3;0.3,15;1,13.4;2.3,12.3",
"24,15.7;24,19.5;16,23.5;14.2,22.6;15.5,20;15.5,16.9;13.6,13.7;13.9,13.3;15,10;15.5,9.9;13.9,9.5;15.5,7.5;18.5,8;21,9.3;22.8,11;22.4,14",
"25,22;37,22;37.5,18.7;36.5,15;36.4,14.3;35,10.9;33,12;32.3,10;30,10;27,9.7;24,8.7;22.8,11;22.4,14;24,15.7;24,19.5;25,20",
"24,8.7;27,9.7;30,10;32.3,10;33,12;35,10.9;33.5,8;35,5.5;33.9,4.2;31,3.7;28,4.5;27.4,5.2;25,7",
"-16.5,16.2;-14,16.6;-12.2,14.7;-11.4,12.5;-13.7,12.6;-16.7,12.4;-17.5,14.7",
"-16.7,13.6;-14,13.6;-14,13.3;-16.7,13.2",
"-16.7,12.4;-13.7,12.6;-13.7,11.7;-15.5,11",
"-13.7,12.6;-11.4,12.5;-8.7,12.6;-8.5,11.3;-7.7,8.5;-9,7.5;-10.5,8.5;-12.9,9.2;-15,10.7;-13.7,11.7",
"-12.9,9.2;-10.5,8.5;-10.7,8;-11.5,6.9;-13.2,8",
"-11.5,6.9;-10.7,8;-9,7.5;-8.5,7.6;-7.5,4.4;-9,5",
"-8.5,7.6;-7.7,8.5;-7,10.2;-5,10.5;-2.8,9.5;-2.8,5.2;-3.2,5.1;-7.5,4.4",
"-5,10.5;-5,11.3;-3,14.8;0.3,15;1,13.4;2.3,12.3;0.9,11;0,11;-2.8,10.9;-2.8,9.5",
"-2.8,10.9;0,11;0.5,8;1.1,6;-2,4.8;-3.2,5.1;-2.8,9.5",
"0,11;0.9,11;1.6,9;1.7,6.2;1.1,6;0.5,8",
"0.9,11;2.3,12.3;3.7,11.7;2.8,9;2.7,6.4;1.7,6.2;1.6,9",
"2.7,6.4;2.8,9;3.7,11.7;3.7,12;6.7,13.3;9,12.8;13.6,13.7;14.2,12.3;13.3,9.5;11.7,7;9.7,6;8.5,4.7;6,4.3;4.5,6.3",
"8.5,4.7;9.7,6;11.7,7;13.3,9.5;14.2,12.3;13.9,13.3;15,10;15.5,9.9;13.9,9.5;15.5,7.5;14.5,5;16,2;13,2.2;9.8,2.3;9.7,4",
"15.5,7.5;18.5,8;21,9.3;22.8,11;24,8.7;25,7;27.4,5.2;25,5;22,4.2;19.5,4.5;18.6,3.5;16,2.2;14.5,5",
"9.8,2.3;11.3,2.2;11.3,1;9.5,1",
"9.5,1;11.3,1;11.3,2.2;13.2,2.2;14.5,0.5;14.5,-1.5;14,-2.5;11.5,-3.5;8.8,-0.7",
"13.2,2.2;16,2;18.6,3.5;17.7,-1;16,-3;15,-4.3;12,-5;11.5,-3.5;14,-2.5;14.5,-1.5;14.5,0.5",
"18.6,3.5;19.5,4.5;22,4.2;25,5;27.4,5.2;28,4.5;31,3.7;29.7,0;29.2,-3;29.5,-6;31,-8.5;28.8,-8.6;28.5,-10;28.5,-12;29.8,-12.2;29.8,-13.4;27.3,-11.8;24,-11;22,-11.2;21.8,-7.3;17.5,-7.9;16.3,-5.9;12.3,-6;13,-4.6;15,-4.3;16,-3;17.7,-1",
"29.7,0;31,3.7;33.9,4.2;35,1.5;34,-1;30.5,-1",
"34,-1;35,1.5;33.9,4.2;36,4.5;39.5,3.5;41,3.9;41,-1.7;39.2,-4.7",
"29,-1.4;30.5,-1.2;30.7,-2.4;29,-2.8",
"29,-2.8;30.7,-2.4;30,-4.5;29.4,-4.4",
"30.5,-1;34,-1;39.2,-4.7;38.8,-6.5;39.5,-10;40.4,-10.7;36,-11.6;34.9,-11.5;33,-9.5;31,-8.5;29.5,-6;29.2,-3",
"36.4,14.3;36.5,15;38,14.5;40,14.5;42.4,12.5;43,11;44,9.3;47.9,8;45,5;42,4.1;41,3.9;39.5,3.5;36,4.5;35,5.5;33.5,8;35,10.9",
"36.5,15;37.5,18.7;39,15.5;43,12.5;42.4,12.5;40,14.5;38,14.5",
"42.4,12.5;43.3,12.5;43.2,11.5;42.5,11",
"41,-1.7;41,3.9;42,4.1;45,5;47.9,8;44,9.3;43.2,11.5;45,10.5;51,12;51,10.5;48,5;45,2;42,-1",
"12.3,-6;16.3,-5.9;17.5,-7.9;21.8,-7.3;22,-11.2;24,-11;24,-13;22,-13;22,-16;23.5,-17.7;21,-18;13.8,-17.4;11.7,-17.3;13.5,-13;13.8,-10.5",
"22,-13;24,-13;24,-11;27.3,-11.8;29.8,-13.4;29.8,-12.2;28.5,-12;28.5,-10;28.8,-8.6;31,-8.5;33,-9.5;33.2,-11;33.2,-14;30.5,-15.6;28,-16.5;26,-18;23.5,-17.7;22,-16",
"33,-9.5;34.9,-11.5;34.8,-13.5;35.7,-14.5;35.2,-17;34.3,-15.8;33.2,-14;33.2,-11",
"34.9,-11.5;36,-11.6;40.4,-10.7;40.7,-15;37,-17.8;34.8,-19.8;35.5,-24;32.8,-26;32,-26;32,-24.4;33,-22.3;32.5,-21;33,-19;32.9,-16.7;30.5,-15.6;33.2,-14;34.3,-15.8;35.2,-17;35.7,-14.5;34.8,-13.5",
"25.3,-17.8;26,-18;28,-16.5;30.5,-15.6;32.9,-16.7;33,-19;32.5,-21;31.3,-22.4;29.5,-22.2;27.5,-20.5;25.5,-18.7",
"20,-18.3;23.5,-17.9;25.5,-18;25.5,-18.7;27.5,-20.5;29.3,-22.2;26.5,-24.7;25.5,-25.7;23,-25.3;20,-24.8",
"11.7,-17.3;13.8,-17.4;21,-18;23.5,-17.7;25,-17.8;23.5,-17.9;20.9,-18.3;20,-22;20,-28.4;17,-28.7;15,-26.8;14.5,-22.5",
"17,-28.7;20,-28.4;20,-24.8;23,-25.3;25.5,-25.7;26.5,-24.7;29.3,-22.2;31.3,-22.4;32,-24.4;32,-26;32.8,-27;32,-29;28.5,-33;25.5,-34;22,-34.2;20,-34.8;18.4,-34.2;18,-32",
"27.2,-29.8;28.7,-28.7;29.4,-29.5;28,-30.6",
"31,-26;32,-26;32,-27;31,-27.3",
"49.3,-12;50.5,-15.5;49.5,-18;47.2,-25;45,-25.5;43.5,-23;44.3,-20;44,-17;46.5,-15.5;48.2,-13.5"
];

/* ---------- axis functions (plate carree fitted to the figure) ---------- */
const NS = "http://www.w3.org/2000/svg";
const svg = document.getElementById("chart");
const panelMapOffsets = [0,866,1732];
const panelLetterBaselines = [74,940,1807];
const legendLayouts = [
  {x:1548, top:334, title:313},
  {x:1579, top:1200, title:1178},
  {x:1548, top:2083, title:2063}
];
const xOf = lon => 783.2 + 3.81*lon;
const yOf = (lat,dy) => 516.9 - 5.65*lat + dy;
const slug = s => s.toLowerCase().replace(/[^a-z0-9]+/g,"-");

function make(tag, attrs, parent){
  const el = document.createElementNS(NS, tag);
  for (const k in attrs) el.setAttribute(k, attrs[k]);
  parent.appendChild(el);
  return el;
}
function ringsToPath(outline, dy){
  return outline.split("|").map(ring => {
    const pts = ring.split(";").map(p => p.split(",").map(Number));
    return "M" + pts.map(p => xOf(p[0]).toFixed(1)+" "+yOf(p[1],dy).toFixed(1)).join("L") + "Z";
  }).join("");
}

panelLetters.forEach((letter, pi) => {
  const dy = panelMapOffsets[pi];
  const classes = panelClasses[pi];

  const g = make("g", {}, svg);
  
  

  const label = make("text", {x:5, y:panelLetterBaselines[pi], "font-size":72, fill:"#141414"}, g);
  
  
  label.textContent = letter;

  countryNames.forEach((name, ci) => {
    const cls = classes[ci];
    const path = make("path", {
      d: ringsToPath(countryOutlines[ci], dy),
      fill: cls < 0 ? "#fefefc" : legendColors[cls],
      stroke: "#26282c",
      "stroke-width": 1.5,
      "stroke-linejoin": "round"
    }, g);
    
    
  });

  lakeOutlines.forEach(outline => {
    const lake = make("path", {d: ringsToPath(outline, dy), fill:"#fefefc", stroke:"#26282c", "stroke-width":1.2}, g);
    
    
  });

  smallIslands.forEach(p => {
    const dot = make("circle", {cx:xOf(p[0]), cy:yOf(p[1],dy), r:1.15, fill:"#26282c"}, g);
    
    
  });

  const layout = legendLayouts[pi];
  const lg = make("g", {}, g);
  
  

  const title = make("text", {x:layout.x, y:layout.title+7.5, "font-size":21.3, fill:"#3a3a3a"}, lg);
  
  
  title.textContent = panelTitles[pi];

  const step = 34.7;
  for (let i = 0; i < panelLegendItems[pi]; i++) {
    const y0 = layout.top + i*step;
    const sw = make("rect", {x:layout.x, y:y0, width:33.5, height:step, fill:legendColors[i], stroke:"#3a3a3a", "stroke-width":1.2}, lg);
    
    
    const t = make("text", {x:layout.x+44, y:y0+step/2+6, "font-size":17.5, fill:"#3a3a3a"}, lg);
    
    
    t.textContent = legendLabels[i];
  }
});
</script>
</body>
</html>
